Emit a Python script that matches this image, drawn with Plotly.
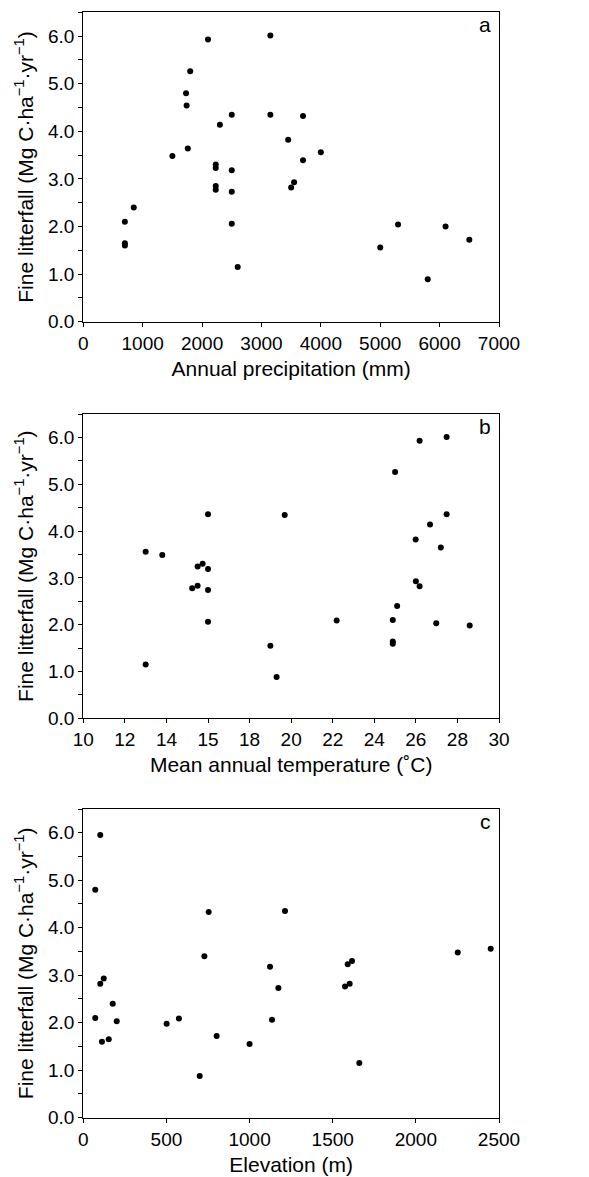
import plotly.graph_objects as go

# panel a: annual precipitation (mm) vs fine litterfall
precip_mm = [2100, 3150, 1800, 1730, 1740, 2500, 3150, 3700, 2300, 3450, 1760,
             1500, 4000, 3700, 2230, 2230, 2500, 3550, 3500, 2230, 2230, 2500,
             850, 700, 700, 700, 2500, 2600, 5000, 5300, 5800, 6100, 6500]
litter_a = [5.93, 6.01, 5.26, 4.80, 4.54, 4.35, 4.35, 4.32, 4.14, 3.82, 3.64,
            3.48, 3.56, 3.39, 3.30, 3.23, 3.18, 2.93, 2.82, 2.85, 2.77, 2.73,
            2.40, 2.10, 1.65, 1.60, 2.06, 1.15, 1.56, 2.04, 0.89, 2.00, 1.72]

# panel b: mean annual temperature (axis units) vs fine litterfall
temp_c = [13.0, 13.8, 15.5, 15.74, 16.0, 16.0, 19.69, 25.0, 26.18, 27.48, 27.48,
          26.68, 25.99, 27.2, 26.0, 26.18, 15.24, 15.5, 16.0, 16.0, 13.0, 19.0,
          19.3, 22.19, 24.89, 24.89, 24.89, 25.1, 26.98, 28.59]
litter_b = [3.56, 3.49, 3.24, 3.30, 3.19, 4.36, 4.34, 5.26, 5.93, 6.01, 4.36,
            4.14, 3.82, 3.65, 2.93, 2.82, 2.78, 2.83, 2.74, 2.06, 1.15, 1.55,
            0.88, 2.09, 2.10, 1.64, 1.59, 2.40, 2.03, 1.98]
temp_ticks = [10, 12, 14, 16, 18, 20, 22, 24, 26, 28, 30]
temp_labels = ["10", "12", "14", "15", "18", "20", "22", "24", "26", "28", "30"]

# panel c: elevation (m) vs fine litterfall
elev_m = [72, 102, 754, 1213, 728, 1123, 1590, 1616, 2252, 2450, 123,
          102, 72, 177, 201, 112, 153, 501, 575, 700, 802, 1000, 1135,
          1173, 1574, 1602, 1660]
litter_c = [4.80, 5.95, 4.33, 4.35, 3.40, 3.18, 3.23, 3.30, 3.48, 3.56, 2.93,
            2.82, 2.10, 2.40, 2.03, 1.60, 1.65, 1.98, 2.09, 0.88, 1.72, 1.55, 2.06,
            2.73, 2.76, 2.82, 1.15]

# the page body adds an 8px margin, so the figure is drawn 8px smaller
OFF = 8
W, H = 589 - OFF, 1177 - OFF
FONT = "Liberation Sans, Arial, sans-serif"
ytitle = "Fine litterfall (Mg C·ha<sup>−1</sup>·yr<sup>−1</sup>)"

# pixel boxes of each plot area in the page (top, bottom)
boxes = [(12.3, 321.7), (414, 718.3), (809, 1117.7)]
xleft, xright = 83.3, 499

fig = go.Figure()

panels = [
    (precip_mm, litter_a, "Annual precipitation (mm)", [0, 7000], 1000, "a"),
    (temp_c, litter_b, "Mean annual temperature (˚C)", [10, 30], 2, "b"),
    (elev_m, litter_c, "Elevation (m)", [0, 2500], 500, "c"),
]

for i, (xs, ys, xt, xr, dx, letter) in enumerate(panels):
    n = "" if i == 0 else str(i + 1)
    fig.add_trace(go.Scatter(x=xs, y=ys, mode="markers",
                             marker=dict(color="black", size=6),
                             xaxis="x" + n, yaxis="y" + n, showlegend=False))
    top, bot = boxes[i]
    common = dict(showline=True, linecolor="black", linewidth=1.3, mirror=True,
                  ticks="outside", ticklen=4, tickwidth=1.2, tickcolor="black",
                  showgrid=False, zeroline=False, automargin=False,
                  tickfont=dict(size=19, color="black", family=FONT))
    xax = dict(common, domain=[(xleft - OFF) / W, (xright - OFF) / W],
               range=xr, dtick=dx, anchor="y" + n,
               title=dict(text=xt, font=dict(size=21, color="black", family=FONT),
                          standoff=8))
    if i == 1:
        xax.update(tickmode="array", tickvals=temp_ticks, ticktext=temp_labels)
    yax = dict(common, domain=[1 - (bot - OFF) / H, 1 - (top - OFF) / H],
               range=[0, 6.5], dtick=1, tickformat=".1f", anchor="x" + n,
               minor=dict(dtick=0.5, ticks="outside", ticklen=4, tickcolor="black"),
               title=dict(text=ytitle, font=dict(size=21, color="black", family=FONT),
                          standoff=8))
    fig.update_layout({"xaxis" + n: xax, "yaxis" + n: yax})
    fig.add_annotation(text=letter, xref="x" + n + " domain", yref="y" + n + " domain",
                       x=0.985, y=0.96, xanchor="right", yanchor="middle",
                       showarrow=False, font=dict(size=21, color="black", family=FONT))

fig.update_layout(width=W, height=H, margin=dict(l=0, r=0, t=0, b=0),
                  plot_bgcolor="white", paper_bgcolor="white",
                  font=dict(family=FONT, color="black"))

fig.write_html("out.html")
